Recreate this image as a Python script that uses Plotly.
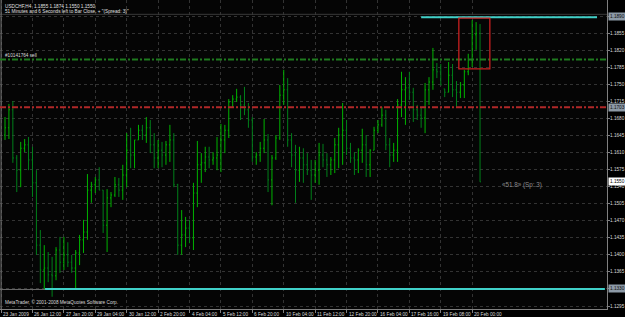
import plotly.graph_objects as go

# ---------------- data ----------------
opens = [1.1646,1.1661,1.1698,1.1599,1.1574,1.1619,1.1626,1.1595,1.1548,1.1420,
         1.1369,1.1373,1.1359,1.1357,1.1410,1.1385,1.1400,1.1385,1.1373,1.1404,
         1.1431,1.1447,1.1533,1.1544,1.1554,1.1533,1.1461,1.1517,1.1523,1.1544,
         1.1533,1.1564,1.1615,1.1605,1.1636,1.1656,1.1646,1.1661,1.1626,1.1599,
         1.1615,1.1605,1.1626,1.1636,1.1544,1.1420,1.1441,1.1455,1.1435,1.1527,
         1.1585,1.1589,1.1601,1.1595,1.1599,1.1605,1.1636,1.1656,1.1714,1.1720,
         1.1724,1.1708,1.1698,1.1677,1.1601,1.1605,1.1619,1.1636,1.1554,1.1599,
         1.1640,1.1728,1.1739,1.1636,1.1605,1.1574,1.1599,1.1585,1.1574,1.1564,
         1.1574,1.1605,1.1595,1.1585,1.1595,1.1626,1.1646,1.1656,1.1619,1.1599,
         1.1595,1.1615,1.1626,1.1585,1.1615,1.1656,1.1667,1.1687,1.1626,1.1605,
         1.1615,1.1708,1.1739,1.1743,1.1734,1.1698,1.1687,1.1681,1.1739,1.1755,
         1.1780,1.1776,1.1741,1.1734,1.1769,1.1739,1.1734,1.1749,1.1776,1.1800,
         1.1852,1.1855]
highs = [1.1683,1.1710,1.1716,1.1605,1.1632,1.1638,1.1642,1.1622,1.1574,1.1451,
         1.1420,1.1406,1.1396,1.1416,1.1437,1.1437,1.1426,1.1400,1.1410,1.1441,
         1.1472,1.1566,1.1550,1.1560,1.1580,1.1533,1.1535,1.1529,1.1560,1.1558,
         1.1585,1.1650,1.1661,1.1636,1.1667,1.1667,1.1683,1.1677,1.1650,1.1636,
         1.1632,1.1634,1.1667,1.1650,1.1546,1.1492,1.1478,1.1472,1.1548,1.1634,
         1.1609,1.1622,1.1622,1.1611,1.1642,1.1669,1.1667,1.1720,1.1728,1.1741,
         1.1728,1.1745,1.1712,1.1683,1.1611,1.1632,1.1679,1.1648,1.1605,1.1646,
         1.1749,1.1780,1.1763,1.1650,1.1626,1.1622,1.1619,1.1609,1.1595,1.1595,
         1.1630,1.1628,1.1609,1.1601,1.1640,1.1661,1.1712,1.1677,1.1630,1.1611,
         1.1619,1.1659,1.1646,1.1617,1.1663,1.1677,1.1704,1.1698,1.1640,1.1630,
         1.1720,1.1776,1.1765,1.1776,1.1743,1.1708,1.1702,1.1753,1.1765,1.1825,
         1.1794,1.1792,1.1741,1.1796,1.1792,1.1757,1.1755,1.1780,1.1813,1.1882,
         1.1878,1.1874]
lows = [1.1636,1.1638,1.1589,1.1529,1.1539,1.1611,1.1574,1.1519,1.1400,1.1342,
        1.1328,1.1344,1.1314,1.1348,1.1363,1.1369,1.1375,1.1363,1.1328,1.1379,
        1.1404,1.1431,1.1507,1.1527,1.1533,1.1445,1.1406,1.1498,1.1519,1.1519,
        1.1513,1.1539,1.1578,1.1578,1.1636,1.1636,1.1630,1.1609,1.1578,1.1578,
        1.1580,1.1585,1.1591,1.1539,1.1400,1.1400,1.1416,1.1424,1.1410,1.1498,
        1.1548,1.1570,1.1578,1.1585,1.1574,1.1570,1.1609,1.1640,1.1702,1.1714,
        1.1677,1.1687,1.1661,1.1591,1.1585,1.1591,1.1609,1.1529,1.1502,1.1595,
        1.1636,1.1708,1.1622,1.1580,1.1507,1.1550,1.1548,1.1564,1.1513,1.1548,
        1.1544,1.1580,1.1560,1.1564,1.1568,1.1578,1.1585,1.1605,1.1589,1.1564,
        1.1568,1.1589,1.1560,1.1560,1.1615,1.1650,1.1663,1.1615,1.1580,1.1591,
        1.1591,1.1683,1.1667,1.1718,1.1673,1.1677,1.1661,1.1650,1.1708,1.1739,
        1.1763,1.1749,1.1724,1.1734,1.1724,1.1702,1.1722,1.1722,1.1769,1.1786,
        1.1821,1.1550]
closes = [1.1661,1.1698,1.1599,1.1574,1.1619,1.1626,1.1595,1.1548,1.1420,1.1369,
          1.1373,1.1359,1.1357,1.1410,1.1385,1.1400,1.1385,1.1373,1.1404,1.1431,
          1.1447,1.1533,1.1544,1.1554,1.1533,1.1461,1.1517,1.1523,1.1544,1.1533,
          1.1564,1.1615,1.1605,1.1636,1.1656,1.1646,1.1661,1.1626,1.1599,1.1615,
          1.1605,1.1626,1.1636,1.1544,1.1420,1.1441,1.1455,1.1435,1.1527,1.1585,
          1.1589,1.1601,1.1595,1.1599,1.1605,1.1636,1.1656,1.1714,1.1720,1.1724,
          1.1708,1.1698,1.1677,1.1601,1.1605,1.1619,1.1636,1.1554,1.1599,1.1640,
          1.1728,1.1739,1.1636,1.1605,1.1574,1.1599,1.1585,1.1574,1.1564,1.1574,
          1.1605,1.1595,1.1585,1.1595,1.1626,1.1646,1.1656,1.1619,1.1599,1.1595,
          1.1615,1.1626,1.1585,1.1615,1.1656,1.1667,1.1687,1.1626,1.1605,1.1615,
          1.1708,1.1739,1.1743,1.1734,1.1698,1.1687,1.1681,1.1739,1.1755,1.1780,
          1.1776,1.1749,1.1734,1.1769,1.1739,1.1734,1.1749,1.1776,1.1800,1.1852,
          1.1855,1.1550]
bar_index = list(range(len(opens)))

time_tick_index = [-1, 7, 15, 23, 31, 39, 47, 55, 63, 71, 79, 87, 95, 103, 111, 119]
time_tick_labels = ["23 Jan 2009", "26 Jan 12:00", "27 Jan 20:00", "29 Jan 04:00",
                    "30 Jan 12:00", "2 Feb 20:00", "4 Feb 04:00", "5 Feb 12:00",
                    "6 Feb 20:00", "10 Feb 04:00", "11 Feb 12:00", "12 Feb 20:00",
                    "16 Feb 04:00", "17 Feb 16:00", "19 Feb 08:00", "20 Feb 00:00"]
price_ticks = [1.1295, 1.1330, 1.1365, 1.1400, 1.1435, 1.1470, 1.1505, 1.1540,
               1.1575, 1.1610, 1.1645, 1.1680, 1.1715, 1.1750, 1.1785, 1.1820,
               1.1855, 1.1890]

# horizontal objects / levels
order_level = 1.1801      # "#10141764 sell"
red_level = 1.1703
bid_level = 1.1550
top_cyan_level = 1.1888
top_cyan_label = 1.1890
bottom_cyan_level = 1.1330
top_gray_level = 1.1894

header1 = "USDCHF,H4  1.1855 1.1874 1.1550 1.1550"
header2 = "51 Minutes and 6 Seconds left to Bar Close. + \"(Spread: 3)\""
copyright_txt = "MetaTrader, © 2001-2008 MetaQuotes Software Corp."
order_txt = "#10141764 sell"
pip_txt = "«51.8» (Sp: 3)"

# ---------------- style ----------------
FONT = "Liberation Sans"
FS = 4.7
X_RANGE = [-1.274, 153.34]
Y_RANGE = [1.12889, 1.19234]

fig = go.Figure()
fig.add_trace(go.Ohlc(
    x=bar_index, open=opens, high=highs, low=lows, close=closes,
    increasing=dict(line=dict(color="#00b400", width=1)),
    decreasing=dict(line=dict(color="#00801a", width=1)),
    tickwidth=0.25, hoverinfo="skip", showlegend=False))

shapes = []
# top gray line
shapes.append(dict(type="line", xref="paper", x0=0, x1=1, yref="y",
                   y0=top_gray_level, y1=top_gray_level,
                   line=dict(color="#3a3a3a", width=1)))
# left gray vertical
shapes.append(dict(type="line", xref="x", x0=-1, x1=-1, yref="paper", y0=0, y1=1,
                   line=dict(color="#7a7a7a", width=1)))
# order (green) dash-dot
shapes.append(dict(type="line", xref="paper", x0=0, x1=1, yref="y",
                   y0=order_level, y1=order_level,
                   line=dict(color="#1f7a1f", width=2, dash="6px,2px,2px,2px")))
# red dash-dot
shapes.append(dict(type="line", xref="paper", x0=0, x1=1, yref="y",
                   y0=red_level, y1=red_level,
                   line=dict(color="#b02828", width=2, dash="6px,2px,2px,2px")))
# cyan lines
shapes.append(dict(type="line", xref="x", x0=106, x1=150.8, yref="y",
                   y0=top_cyan_level, y1=top_cyan_level,
                   line=dict(color="#40d0c8", width=2)))
shapes.append(dict(type="line", xref="x", x0=-1.274, x1=10.2, yref="y",
                   y0=bottom_cyan_level - 0.0001, y1=bottom_cyan_level - 0.0001,
                   line=dict(color="#6a6a6a", width=1)))
shapes.append(dict(type="line", xref="x", x0=10.2, x1=152.8, yref="y",
                   y0=bottom_cyan_level, y1=bottom_cyan_level,
                   line=dict(color="#40d0c8", width=2)))
# red rectangle
shapes.append(dict(type="rect", xref="x", x0=115.6, x1=123.5, yref="y",
                   y0=1.1782, y1=1.1886, line=dict(color="#c82020", width=1.3),
                   fillcolor="rgba(0,0,0,0)"))

annotations = []
highlight = {top_cyan_label: ("#8c99a6", "#101010"),
             bottom_cyan_level: ("#8c99a6", "#101010")}
for p in price_ticks:
    bg, fc = highlight.get(p, (None, "#d8d8d8"))
    a = dict(x=1, xref="paper", y=p, yref="y", xanchor="left", yanchor="middle",
             xshift=1, text=f"{p:.4f}", showarrow=False,
             font=dict(family=FONT, size=FS, color=fc), borderpad=1)
    if bg:
        a["bgcolor"] = bg
    annotations.append(a)
annotations.append(dict(x=1, xref="paper", y=red_level, yref="y", xanchor="left",
                        yanchor="middle", xshift=1, text=f"{red_level:.4f}",
                        showarrow=False, bgcolor="#8c99a6", borderpad=1,
                        font=dict(family=FONT, size=FS, color="#101010")))
annotations.append(dict(x=1, xref="paper", y=bid_level, yref="y", xanchor="left",
                        yanchor="middle", xshift=1, text=f"{bid_level:.4f}",
                        showarrow=False, bgcolor="#ffffff", borderpad=1,
                        font=dict(family=FONT, size=FS, color="#000000")))
for xi, lab in zip(time_tick_index, time_tick_labels):
    annotations.append(dict(x=xi, xref="x", y=0, yref="paper", xanchor="left",
                            yanchor="top", xshift=0, yshift=-1, text=lab,
                            showarrow=False,
                            font=dict(family=FONT, size=FS, color="#d8d8d8")))
annotations.append(dict(x=0, xref="paper", y=1, yref="paper", xanchor="left",
                        yanchor="top", xshift=3, yshift=-2, text=header1,
                        showarrow=False, font=dict(family=FONT, size=FS, color="#e0e0e0")))
annotations.append(dict(x=0, xref="paper", y=1, yref="paper", xanchor="left",
                        yanchor="top", xshift=3, yshift=-7, text=header2,
                        showarrow=False, font=dict(family=FONT, size=FS, color="#e0e0e0")))
annotations.append(dict(x=0, xref="paper", y=0, yref="paper", xanchor="left",
                        yanchor="bottom", xshift=3, yshift=2, text=copyright_txt,
                        showarrow=False, font=dict(family=FONT, size=FS, color="#d8d8d8")))
annotations.append(dict(x=0, xref="paper", y=order_level, yref="y", xanchor="left",
                        yanchor="bottom", xshift=3, yshift=0, text=order_txt,
                        showarrow=False, font=dict(family=FONT, size=FS, color="#d8d8d8")))
annotations.append(dict(x=126, xref="x", y=1.1543, yref="y", xanchor="left",
                        yanchor="middle", text=pip_txt, showarrow=False,
                        font=dict(family=FONT, size=6.3, color="#8c8c8c")))

fig.update_layout(
    width=625, height=317,
    margin=dict(l=0, r=18, t=0, b=8, pad=0),
    paper_bgcolor="#000000", plot_bgcolor="#050505",
    shapes=shapes, annotations=annotations, showlegend=False,
    xaxis=dict(range=X_RANGE, tickvals=time_tick_index, showticklabels=False,
               ticks="outside", ticklen=3, tickcolor="#808080",
               showgrid=True, gridcolor="#333333", griddash="dot", gridwidth=1,
               zeroline=False, showline=True, linecolor="#808080", linewidth=1,
               rangeslider=dict(visible=False), fixedrange=True),
    yaxis=dict(range=Y_RANGE, side="right", tickvals=price_ticks,
               showticklabels=False, ticks="outside", ticklen=2, tickcolor="#808080",
               showgrid=True, gridcolor="#333333", griddash="dot", gridwidth=1,
               zeroline=False, showline=True, linecolor="#808080", linewidth=1,
               fixedrange=True),
)

fig.write_html("out.html")
